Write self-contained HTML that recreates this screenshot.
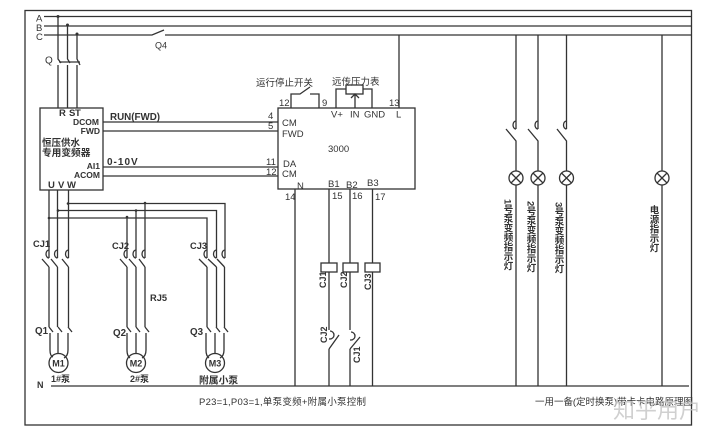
<!DOCTYPE html>
<html><head><meta charset="utf-8"><style>
html,body{margin:0;padding:0;background:#fff}
svg{display:block}
text{font-family:"Liberation Sans","Noto Sans CJK SC",sans-serif;fill:#333}
.b{font-weight:bold}
.v{writing-mode:vertical-rl;font-weight:bold;font-size:9.5px;fill:#333}
</style></head><body>
<svg width="720" height="434" viewBox="0 0 720 434" xmlns="http://www.w3.org/2000/svg">
<rect width="720" height="434" fill="#fff"/>
<g fill="none" stroke="#333" stroke-width="1.3">
<rect x="25" y="10.5" width="666.5" height="414.5" stroke-width="1.3"/>
<path d="M44 16.500H692M44 26H692M44 35H152L164 30M165 35H692"/>
<path d="M58 16V59L61 63M67.500 25V59L70 63M77 34V59L80 65M58 65V108M67.500 65V108M77 65V108M59 62H80"/>
<rect x="40" y="108" width="63" height="82"/>
<path d="M103 122H278M103 131H278M103 167H278M103 176H278"/>
<path d="M49 190V258M57.500 190V258M68.500 190V258M68 203.500H225V258M58 210.500H216.500V258M49 218H207V258M127 217V258M136 210V258M145 203V258"/>
<path d="M49 267V327M57.500 267V327M68.500 267V327M127 267V327M136 267V327M145 267V327M207 267V327M216.500 267V327M224.500 267V327"/>
<path d="M42 259L49 267M51 259L57.500 267M62 259L68.500 267M120 259L127 267M129 259L136 267M139 259L145 267M199 259L207 267M208 259L216.500 267M217 259L224.500 267" />
<path d="M49 258a3 4 0 0 1 0-8M57.500 258a3 4 0 0 1 0-8M68.500 258a3 4 0 0 1 0-8M127 258a3 4 0 0 1 0-8M136 258a3 4 0 0 1 0-8M145 258a3 4 0 0 1 0-8M207 258a3 4 0 0 1 0-8M216.500 258a3 4 0 0 1 0-8M225 258a3 4 0 0 1 0-8"/>
<path d="M49 327L53 332M58 327L62 332M68 327L72 332M127 327L131 332M136 327L140 332M145 327L149 332M207 327L211 332M216 327L220 332M224 327L228 332"/>
<path d="M50 333V350Q50 356 53 357M58 333V354M68 333V350Q68 356 64 358M127 333V350Q127 356 130 358M136 333V354M146 333V350Q146 356 142 358M206 333V350Q206 356 209 358M215 333V354M224 333V350Q224 356 220 358"/>
<circle cx="58.500" cy="363" r="9.500"/><circle cx="136" cy="363" r="9.500"/><circle cx="215" cy="363" r="9.500"/>
<path d="M51 386H689"/>
<rect x="278" y="108" width="137" height="81"/>
<path d="M291 108V94H300L310 87M310 94H319V108M336 108V89H346M363 89H372V108"/>
<rect x="346" y="85" width="17" height="9"/>
<path d="M355 108V94M351 98L355 94L359 98M399 35V108"/>
<path d="M295 189V386M329 189V330M350 189V330M372.500 189V386M329 349V386M350 349V386"/>
<rect x="321" y="263" width="16" height="9" fill="#fff"/><rect x="343" y="263" width="15" height="9" fill="#fff"/><rect x="365" y="263" width="15" height="9" fill="#fff"/>
<path d="M339 335L329 349M360 337L350 349M330 331a4 4 0 0 1 0 8h-1M351 332a4 4 0 0 1 0 8h-1"/>
<path d="M516 35V129M538 35V129M566.500 35V129M662 35V171M506 129L516 141V171M528 129L538 141V171M557 129L566.500 141V171M516 185V386M538 185V386M566.500 185V386M662 185V386"/>
<path d="M516 129a3 4 0 0 1 0-8M538 129a3 4 0 0 1 0-8M566.500 129a3 4 0 0 1 0-8"/>
<circle cx="516" cy="178" r="7"/><path d="M511 173L521 183M521 173L511 183"/>
<circle cx="538" cy="178" r="7"/><path d="M533 173L543 183M543 173L533 183"/>
<circle cx="566.500" cy="178" r="7"/><path d="M561.500 173L571.500 183M571.500 173L561.500 183"/>
<circle cx="662" cy="178" r="7"/><path d="M657 173L667 183M667 173L657 183"/>
</g>
<g fill="#333"><circle cx="58" cy="16.500" r="1.500"/><circle cx="67.500" cy="25" r="1.500"/><circle cx="77" cy="34" r="1.500"/><circle cx="68" cy="203.500" r="1.300"/><circle cx="145" cy="203" r="1.300"/><circle cx="58" cy="210.500" r="1.300"/><circle cx="136" cy="210.500" r="1.300"/><circle cx="49" cy="218" r="1.300"/><circle cx="127" cy="217" r="1.300"/></g>

<text x="36" y="21.500" font-size="9.500">A</text><text x="36" y="31" font-size="9.500">B</text><text x="36" y="40" font-size="9.500">C</text>
<text x="155" y="48.500" font-size="9">Q4</text><text x="45" y="63.500" font-size="10">Q</text>

<g font-size="9.500">
<text x="59" y="116" class="b">R</text><text x="69" y="116" class="b">S</text><text x="75" y="116" class="b">T</text>
<text x="48" y="188" class="b">U</text><text x="58" y="188" class="b">V</text><text x="67" y="188" class="b">W</text>
</g>
<text x="110" y="120" font-size="9.800" class="b">RUN(FWD)</text>
<text x="107" y="165" font-size="10" letter-spacing="1" class="b">0-10V</text>
<g font-size="8.500">
<text x="99" y="125" text-anchor="end" class="b">DCOM</text>
<text x="100" y="134" text-anchor="end" class="b">FWD</text>
<text x="100" y="169" text-anchor="end" class="b">AI1</text>
<text x="100" y="178" text-anchor="end" class="b">ACOM</text>
</g>
<text x="42" y="146" font-size="9.500" class="b">恒压供水</text>
<text x="42" y="156" font-size="9.700" class="b">专用变频器</text>
<g font-size="9.300">
<text x="33" y="247" class="b">CJ1</text><text x="112" y="249" class="b">CJ2</text><text x="190" y="249" class="b">CJ3</text>
<text x="150" y="301" class="b">RJ5</text>
</g>
<g font-size="9.800">
<text x="35" y="334" class="b">Q1</text><text x="113" y="336" class="b">Q2</text><text x="190" y="335" class="b">Q3</text>
</g>
<g font-size="9">
<text x="58.500" y="366.500" text-anchor="middle" class="b">M1</text><text x="136" y="366.500" text-anchor="middle" class="b">M2</text><text x="215" y="366.500" text-anchor="middle" class="b">M3</text>
<text x="51" y="382" class="b">1#泵</text><text x="130" y="382" class="b">2#泵</text>
<text x="37" y="388" class="b">N</text>
</g>
<text x="199" y="383.500" class="b" font-size="9.800">附属小泵</text>
<g font-size="9.500">
<text x="256" y="86">运行停止开关</text><text x="332" y="85">远传压力表</text>
<text x="279" y="106">12</text><text x="322" y="106">9</text><text x="389" y="106">13</text>
<text x="331" y="117.500">V+</text><text x="350" y="117.500">IN</text><text x="364" y="117.500">GND</text><text x="396" y="117.500">L</text>
<text x="282" y="126">CM</text><text x="282" y="137">FWD</text><text x="283" y="167">DA</text><text x="282" y="177">CM</text>
<text x="268" y="119">4</text><text x="268" y="129">5</text><text x="266" y="165">11</text><text x="266" y="175">12</text>
<text x="328" y="152">3000</text>
<text x="297" y="189">N</text><text x="328" y="187">B1</text><text x="346" y="188">B2</text><text x="367" y="186">B3</text>
<text x="285" y="200">14</text><text x="332" y="199">15</text><text x="352" y="199">16</text><text x="375" y="200">17</text>
</g>
<g font-size="9" >
<text transform="translate(326,288) rotate(-90)" class="b">CJ1</text>
<text transform="translate(347,288) rotate(-90)" class="b">CJ2</text>
<text transform="translate(371,290) rotate(-90)" class="b">CJ3</text>
<text transform="translate(327,343) rotate(-90)" class="b">CJ2</text>
<text transform="translate(360,363) rotate(-90)" class="b">CJ1</text>
</g>
<text x="507" y="199" class="v">1号泵变频指示灯</text>
<text x="530" y="201" class="v">2号泵变频指示灯</text>
<text x="558" y="202" class="v">3号泵变频指示灯</text>
<text x="653" y="205" class="v">电源指示灯</text>
<text x="199" y="405" font-size="9.500" textLength="167" lengthAdjust="spacing">P23=1,P03=1,单泵变频+附属小泵控制</text>
<text x="535" y="405" font-size="9.500" textLength="158" lengthAdjust="spacing">一用一备(定时换泵)带卡卡电路原理图</text>
<text x="613" y="418" font-size="22" style="fill:#c4c4c4;fill-opacity:.8">知乎用户</text>
</svg>
</body></html>
